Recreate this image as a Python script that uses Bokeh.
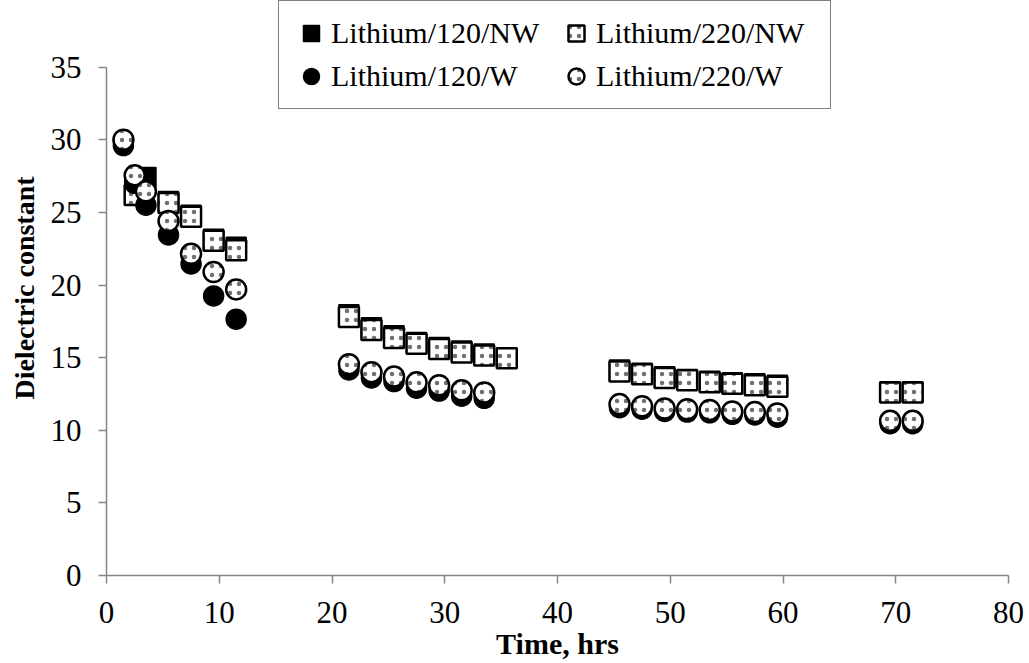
import math
from bokeh.plotting import figure
from bokeh.models import Legend, LegendItem, Range1d, FixedTicker
from bokeh.embed import file_html
from bokeh.resources import INLINE

# ---- data ----
x_120_nw = [2.5, 3.5, 5.5, 7.5, 9.5, 11.5,
            21.5, 23.5, 25.5, 27.5, 29.5, 31.5, 33.5, 35.5,
            45.5, 47.5, 49.5, 51.5, 53.5, 55.5, 57.5, 59.5,
            69.5, 71.5]
y_120_nw = [27.1, 27.4, 25.75, 24.8, 23.15, 22.6,
            17.95, 17.05, 16.5, 16.05, 15.7, 15.45, 15.25, 15.0,
            14.15, 13.92, 13.68, 13.5, 13.38, 13.27, 13.2, 13.1,
            12.65, 12.65]

x_220_nw = [2.5, 5.5, 7.5, 9.5, 11.5,
            21.5, 23.5, 25.5, 27.5, 29.5, 31.5, 33.5, 35.5,
            45.5, 47.5, 49.5, 51.5, 53.5, 55.5, 57.5, 59.5,
            69.5, 71.5]
y_220_nw = [26.2, 25.65, 24.7, 23.05, 22.4,
            17.8, 16.9, 16.35, 15.95, 15.6, 15.35, 15.15, 14.95,
            14.05, 13.85, 13.6, 13.45, 13.3, 13.2, 13.1, 13.0,
            12.6, 12.6]

x_120_w = [1.5, 2.5, 3.5, 5.5, 7.5, 9.5, 11.5,
           21.5, 23.5, 25.5, 27.5, 29.5, 31.5, 33.5,
           45.5, 47.5, 49.5, 51.5, 53.5, 55.5, 57.5, 59.5,
           69.5, 71.5]
y_120_w = [29.6, 27.0, 25.5, 23.45, 21.45, 19.25, 17.65,
           14.15, 13.6, 13.35, 12.9, 12.7, 12.35, 12.2,
           11.55, 11.45, 11.3, 11.25, 11.2, 11.1, 11.05, 10.9,
           10.45, 10.45]

x_220_w = [1.5, 2.5, 3.5, 5.5, 7.5, 9.5, 11.5,
           21.5, 23.5, 25.5, 27.5, 29.5, 31.5, 33.5,
           45.5, 47.5, 49.5, 51.5, 53.5, 55.5, 57.5, 59.5,
           69.5, 71.5]
y_220_w = [30.0, 27.55, 26.45, 24.4, 22.15, 20.9, 19.7,
           14.55, 14.0, 13.7, 13.3, 13.1, 12.75, 12.6,
           11.8, 11.65, 11.5, 11.45, 11.4, 11.3, 11.25, 11.15,
           10.65, 10.65]

labels = ["Lithium/120/NW", "Lithium/220/NW", "Lithium/120/W", "Lithium/220/W"]
x_ticks = [0, 10, 20, 30, 40, 50, 60, 70, 80]
y_ticks = [0, 5, 10, 15, 20, 25, 30, 35]

FONT = "Liberation Serif"
AXIS_GREY = "#868686"

# plot area extends above the 35 gridline to hold the legend (as in the original)
p = figure(width=1029, height=663, output_backend="svg", toolbar_location=None,
           x_range=Range1d(0, 80), y_range=Range1d(0, 39.59),
           min_border_left=106, min_border_right=21,
           min_border_top=0, min_border_bottom=88)
p.outline_line_color = None
p.xgrid.visible = False
p.ygrid.visible = False
p.background_fill_color = "white"
p.border_fill_color = "white"

for ax in (p.xaxis[0], p.yaxis[0]):
    ax.axis_line_color = AXIS_GREY
    ax.axis_line_width = 1.5
    ax.major_tick_line_color = AXIS_GREY
    ax.major_tick_line_width = 1.5
    ax.major_tick_out = 8
    ax.major_tick_in = 0
    ax.minor_tick_line_color = None
    ax.major_label_text_font = FONT
    ax.major_label_text_font_size = "31px"
    ax.major_label_text_color = "black"
    ax.axis_label_text_font = FONT
    ax.axis_label_text_font_style = "bold"
    ax.axis_label_text_color = "black"

p.xaxis.ticker = FixedTicker(ticks=x_ticks)
p.yaxis.ticker = FixedTicker(ticks=y_ticks)
p.yaxis.bounds = (0, 35)
p.xaxis.major_label_standoff = 18
p.yaxis.major_label_standoff = 17
p.xaxis.axis_label = "Time, hrs"
p.xaxis.axis_label_text_font_size = "30px"
p.xaxis.axis_label_standoff = 1
p.yaxis.axis_label = "Dielectric constant"
p.yaxis.axis_label_text_font_size = "28px"
p.yaxis.axis_label_standoff = 8

SIZE = 20
r1 = p.scatter(x_120_nw, y_120_nw, marker="square", size=SIZE,
               fill_color="black", line_color="black", line_width=1.5)
r2 = p.scatter(x_220_nw, y_220_nw, marker="square", size=SIZE,
               fill_color="white", line_color="black", line_width=2.5,
               hatch_pattern="dot", hatch_color="#707070", hatch_scale=9, hatch_weight=2)
r3 = p.scatter(x_120_w, y_120_w, marker="circle", size=SIZE,
               fill_color="black", line_color="black", line_width=1.5)
r4 = p.scatter(x_220_w, y_220_w, marker="circle", size=SIZE,
               fill_color="white", line_color="black", line_width=2.5,
               hatch_pattern="dot", hatch_color="#707070", hatch_scale=9, hatch_weight=2)

legend = Legend(items=[LegendItem(label=labels[0], renderers=[r1]),
                       LegendItem(label=labels[1], renderers=[r2]),
                       LegendItem(label=labels[2], renderers=[r3]),
                       LegendItem(label=labels[3], renderers=[r4])],
                location=(172, 466), orientation="horizontal", ncols=2)
legend.label_text_font = FONT
legend.label_text_font_size = "30px"
legend.label_text_color = "black"
legend.glyph_width = 40
legend.glyph_height = 40
legend.label_height = 40
legend.label_width = 222
legend.label_standoff = 0
legend.spacing = 3
legend.padding = 12
legend.margin = 0
legend.border_line_color = "black"
legend.border_line_width = 1.5
legend.background_fill_color = "white"
legend.background_fill_alpha = 1.0
p.add_layout(legend, "center")

open("out.html", "w").write(file_html(p, INLINE))
